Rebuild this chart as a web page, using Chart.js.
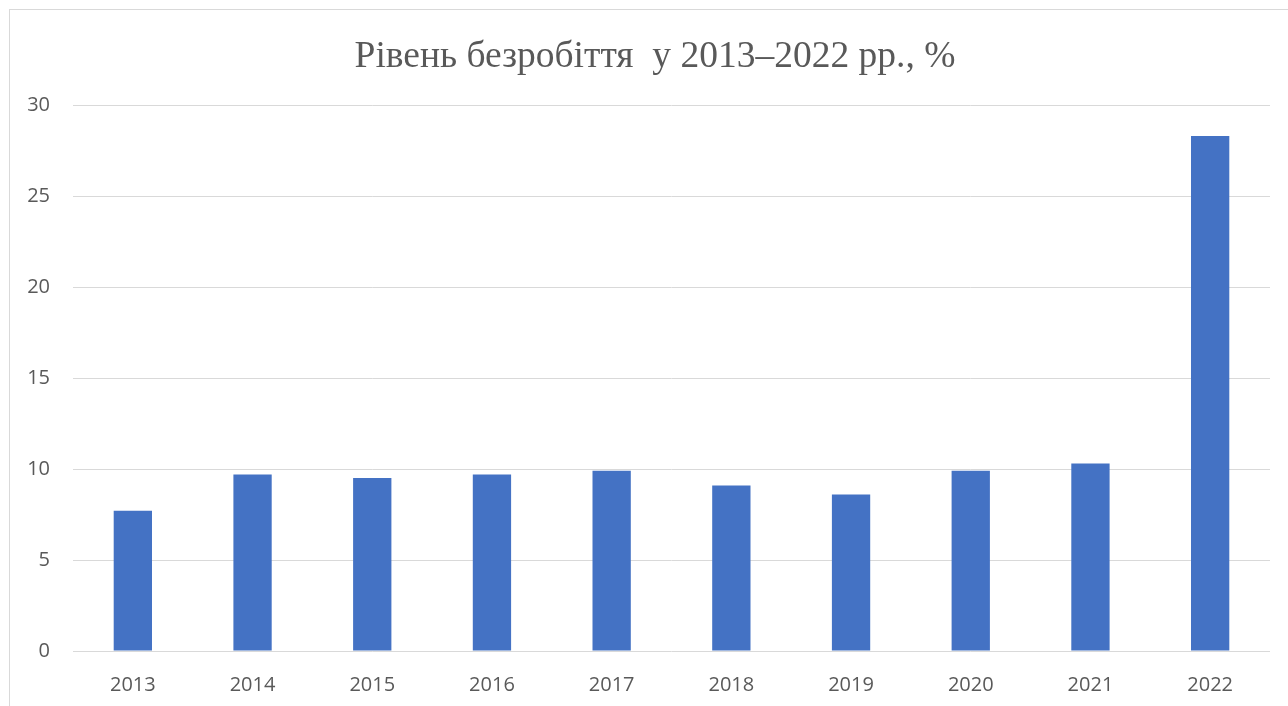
<!DOCTYPE html>
<html>
<head>
<meta charset="utf-8">
<script src="https://cdn.jsdelivr.net/npm/chart.js@4/dist/chart.umd.min.js"></script>
<style>
  html, body { margin: 0; padding: 0; background: #fff; overflow: hidden; width: 1288px; height: 706px; }
  #frame { position: absolute; left: 9px; top: 9px; width: 1290px; height: 710px; border: 1px solid #d9d9d9; }
  #chart { display: block; }
</style>
</head>
<body>
<div id="frame"><canvas id="chart" width="1290" height="696"></canvas></div>
<script>
const years = ["2013", "2014", "2015", "2016", "2017", "2018", "2019", "2020", "2021", "2022"];
const unemployment = [7.7, 9.7, 9.5, 9.7, 9.9, 9.1, 8.6, 9.9, 10.3, 28.3];
const titleText = "Рівень безробіття  у 2013–2022 рр., %";

const tickFont = { family: "'Open Sans', sans-serif", size: 20 };

new Chart(document.getElementById("chart"), {
  type: "bar",
  data: {
    labels: years,
    datasets: [{
      data: unemployment,
      backgroundColor: "#4472c4",
      categoryPercentage: 1,
      barPercentage: 0.32
    }]
  },
  options: {
    responsive: false,
    animation: false,
    layout: { padding: 0 },
    plugins: {
      legend: { display: false },
      tooltip: { enabled: false },
      title: {
        display: true,
        text: titleText,
        color: "#595959",
        font: { family: "'Liberation Serif', 'Times New Roman', serif", size: 37.5, weight: "normal" },
        padding: { top: 25, bottom: 25 }
      }
    },
    scales: {
      x: {
        afterFit: (s) => { s.height = 55; },
        grid: { display: false },
        border: { display: false },
        ticks: { color: "#595959", font: tickFont, padding: 14, maxRotation: 0 }
      },
      y: {
        min: 0,
        max: 30,
        afterFit: (s) => { s.width = 63; },
        grid: { color: "#d9d9d9", lineWidth: 1, drawTicks: false },
        border: { display: false },
        ticks: { stepSize: 5, color: "#595959", font: tickFont, padding: 23 }
      },
      // empty right gutter so the title stays centred on the whole frame
      gutter: {
        type: "linear",
        position: "right",
        afterFit: (s) => { s.width = 30; },
        grid: { display: false },
        border: { display: false },
        ticks: { display: false }
      }
    }
  }
});
</script>
</body>
</html>
